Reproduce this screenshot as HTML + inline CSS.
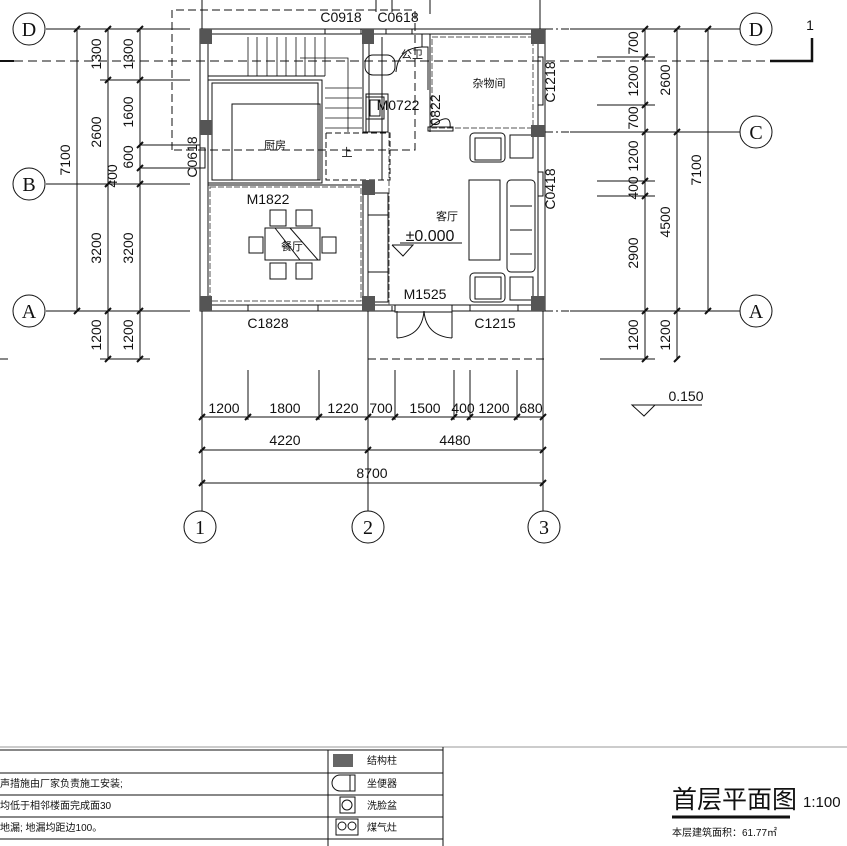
<!DOCTYPE html>
<html><head><meta charset="utf-8"><style>
html,body{margin:0;padding:0;background:#fff;}
svg{display:block;}
text{font-family:"Liberation Sans Narrow","Liberation Sans","Noto Sans CJK SC",sans-serif;fill:#111;}
.ser{font-family:"Liberation Serif","Noto Serif CJK SC",serif;}
</style></head><body>
<svg width="847" height="846" viewBox="0 0 847 846" xmlns="http://www.w3.org/2000/svg">
<g stroke="#111" stroke-width="1" fill="none">
<line x1="46" y1="29" x2="190" y2="29"/>
<line x1="46" y1="184" x2="190" y2="184"/>
<line x1="46" y1="311" x2="190" y2="311"/>
<line x1="570" y1="29" x2="740" y2="29"/>
<line x1="570" y1="132" x2="740" y2="132"/>
<line x1="570" y1="311" x2="740" y2="311"/>
<line x1="545" y1="29" x2="570" y2="29" stroke-dasharray="8,3,2,3"/>
<line x1="545" y1="132" x2="570" y2="132" stroke-dasharray="8,3,2,3"/>
<line x1="545" y1="311" x2="570" y2="311" stroke-dasharray="8,3,2,3"/>
<line x1="202" y1="311" x2="202" y2="511"/>
<line x1="368" y1="311" x2="368" y2="511"/>
<line x1="543" y1="311" x2="543" y2="511"/>
<line x1="202" y1="0" x2="202" y2="29"/>
<line x1="540" y1="0" x2="540" y2="29"/>
<line x1="376" y1="0" x2="376" y2="12"/><line x1="392" y1="0" x2="392" y2="12"/><line x1="430" y1="0" x2="430" y2="14"/>
<line x1="0" y1="61" x2="770" y2="61" stroke-dasharray="9,5"/>
<line x1="0" y1="61" x2="14" y2="61" stroke-width="2"/>
<polyline points="770,61 812,61 812,38" stroke-width="2.5"/>
<line x1="0" y1="359" x2="8" y2="359" stroke-dasharray="8,4"/>
<line x1="368" y1="359" x2="545" y2="359" stroke-dasharray="8,4"/>
<line x1="600" y1="359" x2="655" y2="359"/>
<circle cx="29" cy="29" r="16"/><circle cx="29" cy="184" r="16"/><circle cx="29" cy="311" r="16"/>
<circle cx="756" cy="29" r="16"/><circle cx="756" cy="132" r="16"/><circle cx="756" cy="311" r="16"/>
<circle cx="200" cy="527" r="16"/><circle cx="368" cy="527" r="16"/><circle cx="544" cy="527" r="16"/>
<line x1="77" y1="29" x2="77" y2="311"/>
<line x1="108" y1="29" x2="108" y2="359"/>
<line x1="140" y1="29" x2="140" y2="359"/>
<line x1="100" y1="80" x2="190" y2="80"/>
<line x1="140" y1="145" x2="200" y2="145"/>
<line x1="140" y1="168" x2="200" y2="168"/>
<line x1="100" y1="359" x2="150" y2="359"/>
<line x1="645" y1="29" x2="645" y2="359"/>
<line x1="677" y1="29" x2="677" y2="359"/>
<line x1="708" y1="29" x2="708" y2="311"/>
<line x1="597" y1="57" x2="655" y2="57"/>
<line x1="597" y1="105" x2="655" y2="105"/>
<line x1="597" y1="181" x2="655" y2="181"/>
<line x1="597" y1="196" x2="655" y2="196"/>
<line x1="200" y1="417" x2="544" y2="417"/>
<line x1="200" y1="450" x2="544" y2="450"/>
<line x1="200" y1="483" x2="544" y2="483"/>
<line x1="248" y1="370" x2="248" y2="420"/><line x1="319" y1="370" x2="319" y2="420"/>
<line x1="395" y1="370" x2="395" y2="420"/><line x1="454" y1="370" x2="454" y2="420"/>
<line x1="470" y1="370" x2="470" y2="420"/><line x1="517" y1="370" x2="517" y2="420"/>
<line x1="202" y1="370" x2="202" y2="311"/>
<polyline points="632,405 655,405 644,416 632,405 702,405"/>
</g>
<g stroke="#111" stroke-width="2">
<path d="M74 32 l6 -6 M105 32 l6 -6 M137 32 l6 -6 M105 83 l6 -6 M137 83 l6 -6 M137 148 l6 -6 M137 171 l6 -6 M105 187 l6 -6 M137 187 l6 -6 M74 314 l6 -6 M105 314 l6 -6 M137 314 l6 -6 M105 362 l6 -6 M137 362 l6 -6"/>
<path d="M642 32 l6 -6 M674 32 l6 -6 M705 32 l6 -6 M642 60 l6 -6 M642 108 l6 -6 M642 135 l6 -6 M674 135 l6 -6 M642 184 l6 -6 M642 199 l6 -6 M642 314 l6 -6 M674 314 l6 -6 M705 314 l6 -6 M642 362 l6 -6 M674 362 l6 -6"/>
<path d="M199 420 l6 -6 M245 420 l6 -6 M316 420 l6 -6 M365 420 l6 -6 M392 420 l6 -6 M451 420 l6 -6 M467 420 l6 -6 M514 420 l6 -6 M540 420 l6 -6 M199 453 l6 -6 M365 453 l6 -6 M540 453 l6 -6 M199 486 l6 -6 M540 486 l6 -6"/>
</g>
<g stroke="#111" stroke-width="1" fill="none">
<rect x="200" y="29" width="345" height="282"/>
<rect x="208" y="34" width="330" height="271"/>
<polyline points="172,150 172,10 415,10 415,150 172,150" stroke-dasharray="8,4"/>
<line x1="208" y1="76" x2="325" y2="76"/>
<g stroke-width="0.8">
<line x1="248" y1="37" x2="248" y2="76"/><line x1="257" y1="37" x2="257" y2="76"/><line x1="267" y1="37" x2="267" y2="76"/><line x1="277" y1="37" x2="277" y2="76"/><line x1="286" y1="37" x2="286" y2="76"/><line x1="296" y1="37" x2="296" y2="76"/><line x1="305" y1="37" x2="305" y2="76"/><line x1="315" y1="37" x2="315" y2="76"/><line x1="325" y1="37" x2="325" y2="76"/>
<line x1="325" y1="88" x2="362" y2="88"/><line x1="325" y1="98" x2="362" y2="98"/><line x1="325" y1="108" x2="362" y2="108"/><line x1="325" y1="118" x2="362" y2="118"/><line x1="325" y1="128" x2="362" y2="128"/>
<polyline points="300,58 348,58 348,132"/>
</g>
<rect x="208" y="80" width="114" height="103"/>
<rect x="212" y="83" width="106" height="97"/>
<rect x="232" y="104" width="88" height="76"/>
<polyline points="326,133 390,133 390,180 326,180 326,133" stroke-dasharray="6,3"/>
<rect x="208" y="185" width="155" height="120"/>
<rect x="210" y="187" width="151" height="114" stroke-dasharray="6,2" stroke="#555"/>
<rect x="265" y="228" width="55" height="32"/>
<line x1="275" y1="228" x2="300" y2="260"/><line x1="290" y1="228" x2="318" y2="260"/>
<rect x="270" y="210" width="16" height="16"/><rect x="296" y="210" width="16" height="16"/>
<rect x="270" y="263" width="16" height="16"/><rect x="296" y="263" width="16" height="16"/>
<rect x="249" y="237" width="14" height="16"/><rect x="322" y="237" width="14" height="16"/>
<rect x="363" y="34" width="6" height="98"/>
<rect x="368" y="193" width="20" height="109"/>
<line x1="368" y1="215" x2="388" y2="215"/><line x1="368" y1="272" x2="388" y2="272"/>
<line x1="389" y1="132" x2="389" y2="305" stroke-dasharray="6,2" stroke="#555"/>
<rect x="365" y="55" width="30" height="20" rx="8"/>
<rect x="366" y="97" width="18" height="22"/><rect x="370" y="100" width="10" height="16"/>
<rect x="366" y="94" width="22" height="38"/>
<path d="M396 72 Q398 48 422 47"/>
<polyline points="422,47 428,47 428,90"/>
<polyline points="422,34 422,47"/>
<polyline points="430,34 430,132"/>
<rect x="432" y="37" width="101" height="91" stroke-dasharray="6,2" stroke="#555"/>
<path d="M430 127 Q452 110 450 128"/>
<rect x="428" y="127" width="25" height="4"/>
<line x1="382" y1="37" x2="382" y2="180"/>
<rect x="325" y="29" width="36" height="5"/><rect x="386" y="29" width="26" height="5"/>
<rect x="538" y="57" width="5" height="48"/><rect x="538" y="172" width="5" height="24"/>
<rect x="200" y="148" width="5" height="20"/>
<rect x="248" y="305" width="70" height="6"/><rect x="470" y="305" width="48" height="6"/>
<rect x="470" y="133" width="35" height="29" rx="4"/><rect x="475" y="138" width="26" height="22"/>
<rect x="510" y="135" width="23" height="23"/>
<rect x="469" y="180" width="31" height="80"/>
<rect x="507" y="180" width="28" height="92" rx="4"/>
<line x1="510" y1="206" x2="532" y2="206"/><line x1="510" y1="230" x2="532" y2="230"/><line x1="510" y1="254" x2="532" y2="254"/>
<rect x="470" y="273" width="35" height="29" rx="4"/><rect x="475" y="277" width="26" height="22"/>
<rect x="510" y="277" width="23" height="23"/>
<rect x="395" y="305" width="57" height="7" fill="#fff"/>
<line x1="397" y1="311" x2="397" y2="338"/><line x1="452" y1="311" x2="452" y2="338"/>
<path d="M397 338 Q422 336 424 311 Q426 336 452 338"/>
<line x1="392" y1="311" x2="392" y2="306"/>
<line x1="400" y1="243" x2="462" y2="243"/>
<polyline points="392,245 413,245 403,256 392,245"/>
</g>
<g fill="#555">
<rect x="200" y="29" width="12" height="15"/><rect x="362" y="29" width="12" height="15"/><rect x="531" y="29" width="14" height="15"/>
<rect x="200" y="120" width="12" height="15"/><rect x="531" y="125" width="14" height="12"/><rect x="362" y="180" width="13" height="15"/>
<rect x="200" y="296" width="12" height="15"/><rect x="362" y="296" width="13" height="15"/><rect x="531" y="296" width="14" height="15"/>
</g>
<g font-size="20" text-anchor="middle" class="ser">
<text class="ser" x="29" y="36">D</text><text class="ser" x="29" y="191">B</text><text class="ser" x="29" y="318">A</text>
<text class="ser" x="756" y="36">D</text><text class="ser" x="756" y="139">C</text><text class="ser" x="756" y="318">A</text>
<text class="ser" x="200" y="534">1</text><text class="ser" x="368" y="534">2</text><text class="ser" x="544" y="534">3</text>
</g>
<g font-size="14" text-anchor="middle">
<text transform="translate(101,54) rotate(-90)">1300</text>
<text transform="translate(133,54) rotate(-90)">1300</text>
<text transform="translate(133,112) rotate(-90)">1600</text>
<text transform="translate(101,132) rotate(-90)">2600</text>
<text transform="translate(70,160) rotate(-90)">7100</text>
<text transform="translate(133,157) rotate(-90)">600</text>
<text transform="translate(117,176) rotate(-90)">400</text>
<text transform="translate(101,248) rotate(-90)">3200</text>
<text transform="translate(133,248) rotate(-90)">3200</text>
<text transform="translate(101,335) rotate(-90)">1200</text>
<text transform="translate(133,335) rotate(-90)">1200</text>
<text transform="translate(638,43) rotate(-90)">700</text>
<text transform="translate(638,81) rotate(-90)">1200</text>
<text transform="translate(638,118) rotate(-90)">700</text>
<text transform="translate(670,80) rotate(-90)">2600</text>
<text transform="translate(638,156) rotate(-90)">1200</text>
<text transform="translate(638,188) rotate(-90)">400</text>
<text transform="translate(701,170) rotate(-90)">7100</text>
<text transform="translate(670,222) rotate(-90)">4500</text>
<text transform="translate(638,253) rotate(-90)">2900</text>
<text transform="translate(638,335) rotate(-90)">1200</text>
<text transform="translate(670,335) rotate(-90)">1200</text>
<text transform="translate(555,82) rotate(-90)">C1218</text>
<text transform="translate(555,189) rotate(-90)">C0418</text>
<text transform="translate(197,157) rotate(-90)">C0618</text>
<text transform="translate(440,110) rotate(-90)">0822</text>
<text x="341" y="22">C0918</text><text x="398" y="22">C0618</text>
<text x="398" y="110">M0722</text>
<text x="268" y="204">M1822</text>
<text x="425" y="299">M1525</text>
<text x="268" y="328">C1828</text><text x="495" y="328">C1215</text>
<text x="224" y="413">1200</text><text x="285" y="413">1800</text><text x="343" y="413">1220</text>
<text x="381" y="413">700</text><text x="425" y="413">1500</text><text x="463" y="413">400</text>
<text x="494" y="413">1200</text><text x="531" y="413">680</text>
<text x="285" y="445">4220</text><text x="455" y="445">4480</text><text x="372" y="478">8700</text>
<text x="686" y="401">0.150</text>
<text x="430" y="241" font-size="16">±0.000</text>
<text x="810" y="30">1</text>
</g>
<g font-size="11" text-anchor="middle">
<text x="275" y="149">厨房</text><text x="489" y="87">杂物间</text><text x="447" y="220">客厅</text>
<text x="292" y="250">餐厅</text><text x="412" y="58">公卫</text><text x="347" y="156">上</text>
</g>
<g stroke="#111" stroke-width="1" fill="none">
<line x1="0" y1="747" x2="847" y2="747" stroke="#999"/>
<line x1="0" y1="750" x2="443" y2="750"/>
<line x1="0" y1="773" x2="443" y2="773"/>
<line x1="0" y1="795" x2="443" y2="795"/>
<line x1="0" y1="817" x2="443" y2="817"/>
<line x1="0" y1="839" x2="443" y2="839"/>
<line x1="328" y1="750" x2="328" y2="846"/>
<line x1="443" y1="747" x2="443" y2="846"/>
<path d="M340 775 h10 v16 h-10 a8 8 0 0 1 0 -16 z M350 775 h5 v16 h-5"/>
<rect x="340" y="797" width="15" height="16"/><circle cx="347" cy="805" r="5"/>
<rect x="336" y="819" width="22" height="16"/><circle cx="342" cy="826" r="4"/><circle cx="352" cy="826" r="4"/>
</g>
<rect x="333" y="754" width="20" height="13" fill="#666"/>
<g font-size="10">
<text x="367" y="764">结构柱</text><text x="367" y="787">坐便器</text><text x="367" y="809">洗脸盆</text><text x="367" y="831">煤气灶</text>
<text x="0" y="787">声措施由厂家负责施工安装;</text>
<text x="0" y="809">均低于相邻楼面完成面30</text>
<text x="0" y="831">地漏; 地漏均距边100。</text>
</g>
<text x="672" y="808" font-size="25">首层平面图</text>
<text x="803" y="807" font-size="15">1:100</text>
<line x1="672" y1="817" x2="790" y2="817" stroke="#111" stroke-width="3"/>
<text x="672" y="836" font-size="10">本层建筑面积：61.77㎡</text>
</svg>
</body></html>
